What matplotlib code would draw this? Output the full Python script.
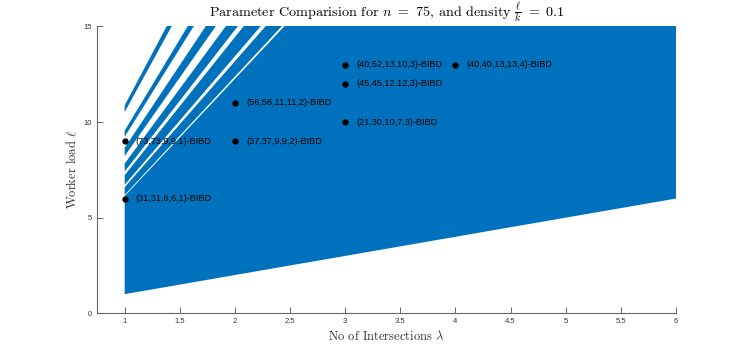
import matplotlib
matplotlib.use("Agg")
import matplotlib.pyplot as plt

plt.rcParams['mathtext.fontset'] = 'cm'

BLUE = "#0072BD"

# slopes l/lambda of the bands (lower, upper)
band_lo = [1.0, 6.19, 6.72, 7.41, 8.22, 9.23, 10.52]
band_hi = [6.13, 6.59, 7.22, 7.83, 8.65, 9.55, 10.87]
lam_range = [1, 6]

# BIBD points
pt_lam = [1, 1, 2, 2, 3, 3, 3, 4]
pt_load = [6, 9, 11, 9, 13, 12, 10, 13]
pt_labels = ["(31,31,6,6,1)-BIBD", "(73,73,9,9,1)-BIBD", "(56,56,11,11,2)-BIBD",
             "(37,37,9,9,2)-BIBD", "(40,52,13,10,3)-BIBD", "(45,45,12,12,3)-BIBD",
             "(21,30,10,7,3)-BIBD", "(40,40,13,13,4)-BIBD"]

xticks = [1, 1.5, 2, 2.5, 3, 3.5, 4, 4.5, 5, 5.5, 6]
yticks = [0, 5, 10, 15]

fig = plt.figure(figsize=(7.47, 3.52), dpi=100)
ax = fig.add_axes([0.13, 0.11, 0.775, 0.815])

a, b = lam_range
for lo, hi in zip(band_lo, band_hi):
    ax.fill([a, a, b, b], [a * lo, a * hi, b * hi, b * lo],
            color=BLUE, linewidth=0)

ax.plot(pt_lam, pt_load, 'o', color='black', markersize=3.5, linestyle='none')
for x, y, s in zip(pt_lam, pt_load, pt_labels):
    ax.text(x + 0.1, y, s, fontsize=6.6, va='center', ha='left',
            family='Liberation Sans')

ax.set_xlim(0.75, 6)
ax.set_ylim(0, 15)
ax.set_xticks(xticks)
ax.set_xticklabels([f"{t:g}" for t in xticks])
ax.set_yticks(yticks)
for sp in ['top', 'right']:
    ax.spines[sp].set_visible(False)
for sp in ['left', 'bottom']:
    ax.spines[sp].set_color('#666666')
    ax.spines[sp].set_linewidth(0.8)
ax.tick_params(direction='in', length=4, width=0.7, colors='#666666',
               labelsize=5.5, labelcolor='#333333')
for lab in ax.get_xticklabels() + ax.get_yticklabels():
    lab.set_family('Liberation Sans')

ax.set_title(r"Parameter Comparision for $n\ =\ 75$, and density $\frac{\ell}{k}\ =\ 0.1$",
             fontsize=10.2, family='cmr10', pad=3)
ax.set_xlabel(r"No of Intersections $\lambda$", fontsize=9, family='cmr10',
              color='#333333', labelpad=3)
ax.set_ylabel(r"Worker load $\ell$", fontsize=9, family='cmr10',
              color='#333333', labelpad=3)

fig.savefig("out.png", dpi=100)
